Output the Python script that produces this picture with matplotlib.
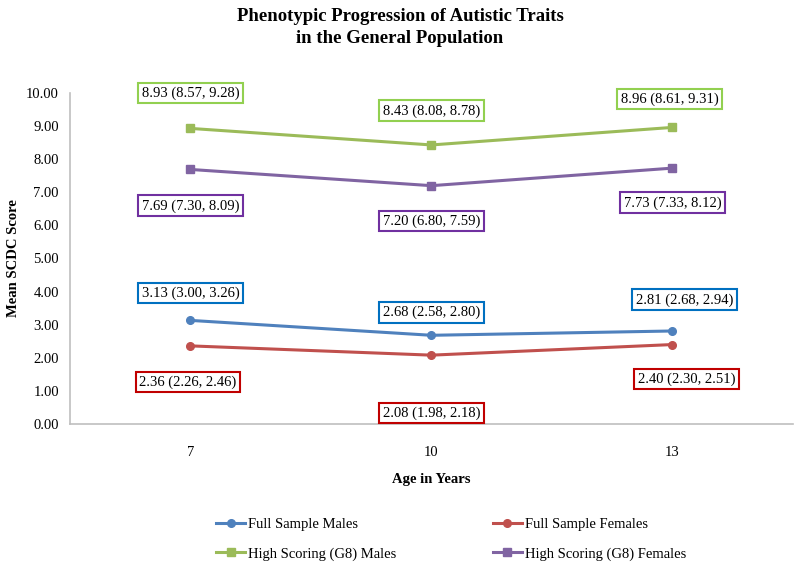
import matplotlib.pyplot as plt

plt.rcParams['font.family'] = ['Liberation Serif', 'DejaVu Serif']

ages = ['7', '10', '13']
series_names = ['Full Sample Males', 'Full Sample Females',
                'High Scoring (G8) Males', 'High Scoring (G8) Females']
males_full = [3.13, 2.68, 2.81]
females_full = [2.36, 2.08, 2.40]
males_g8 = [8.93, 8.43, 8.96]
females_g8 = [7.69, 7.20, 7.73]
ci_males_full = [(3.00, 3.26), (2.58, 2.80), (2.68, 2.94)]
ci_females_full = [(2.26, 2.46), (1.98, 2.18), (2.30, 2.51)]
ci_males_g8 = [(8.57, 9.28), (8.08, 8.78), (8.61, 9.31)]
ci_females_g8 = [(7.30, 8.09), (6.80, 7.59), (7.33, 8.12)]

line_colors = ['#4F81BD', '#C0504D', '#9BBB59', '#8064A2']
box_colors = ['#0070C0', '#C00000', '#92D050', '#7030A0']
markers = ['o', 'o', 's', 's']

# label placement: (x offset in category units, y offset in score units)
label_offsets = [
    [(0.0, 0.83), (0.0, 0.70), (0.05, 0.94)],
    [(-0.01, -1.09), (0.0, -1.75), (0.06, -1.04)],
    [(0.0, 1.07), (0.0, 1.03), (-0.01, 0.86)],
    [(0.0, -1.10), (0.0, -1.07), (0.0, -1.05)],
]

means = [males_full, females_full, males_g8, females_g8]
cis = [ci_males_full, ci_females_full, ci_males_g8, ci_females_g8]

fig = plt.figure(figsize=(8, 5.67), dpi=100)
ax = fig.add_axes([0.0875, 0.2522, 0.9035, 0.5838])
x = list(range(len(ages)))

handles = []
for i in range(4):
    h, = ax.plot(x, means[i], color=line_colors[i], marker=markers[i], lw=2.2,
                 markersize=5.5, label=series_names[i])
    handles.append(h)
    for j in range(len(ages)):
        lo, hi = cis[i][j]
        dx, dy = label_offsets[i][j]
        ax.text(x[j] + dx, means[i][j] + dy, f'{means[i][j]:.2f} ({lo:.2f}, {hi:.2f})',
                ha='center', va='center', fontsize=10.5,
                bbox=dict(boxstyle='square,pad=0.25', fc='white', ec=box_colors[i], lw=1.5))

ax.set_xlim(-0.5, 2.5)
ax.set_ylim(0, 10)
ax.set_xticks(x)
ax.set_xticklabels(ages)
ax.set_yticks(range(0, 11))
ax.set_yticklabels([f'{v:.2f}' for v in range(0, 11)])
ax.tick_params(length=0, labelsize=10.5, pad=8)
ax.tick_params(axis='x', pad=16)
for s in ['top', 'right']:
    ax.spines[s].set_visible(False)
for s in ['left', 'bottom']:
    ax.spines[s].set_color('#BFBFBF')
    ax.spines[s].set_linewidth(1.2)

ax.set_xlabel('Age in Years', fontweight='bold', fontsize=10.5, labelpad=10)
ax.set_ylabel('Mean SCDC Score', fontweight='bold', fontsize=10.5, labelpad=4)

fig.text(0.5, 0.951, 'Phenotypic Progression of Autistic Traits\nin the General Population',
         ha='center', va='center', fontweight='bold', fontsize=13.5, linespacing=1.4)

# row-major order like the original: matplotlib fills legend columns first
order = [0, 2, 1, 3]
fig.legend([handles[k] for k in order], [series_names[k] for k in order],
           loc='center left', bbox_to_anchor=(0.254, 0.049), ncol=2, frameon=False,
           fontsize=10.5, handlelength=2.0, handletextpad=0.2, columnspacing=6.6,
           labelspacing=1.1)

fig.savefig('out.png', dpi=100)
